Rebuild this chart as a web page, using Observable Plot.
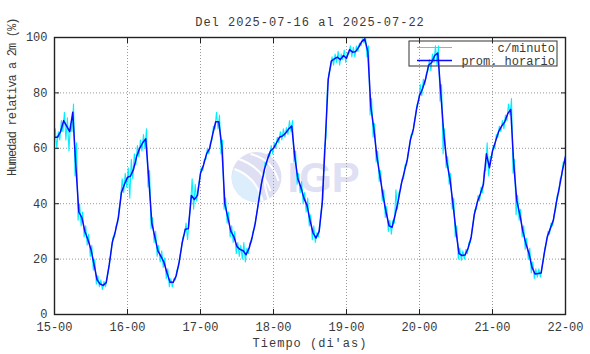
<!DOCTYPE html>
<html><head><meta charset="utf-8">
<script src="https://cdn.jsdelivr.net/npm/d3@7"></script>
<script src="https://cdn.jsdelivr.net/npm/@observablehq/plot@0.6"></script>
<style>body{margin:0;background:#fff} #chart svg{display:block}</style>
</head><body><div id="chart"></div>
<script>
// ---- chart data ----
const title = "Del 2025-07-16 al 2025-07-22";
const yLabel = "Humedad relativa a 2m (%)";
const xLabel = "Tiempo (di'as)";
const seriesNames = ["c/minuto", "prom. horario"];
const seriesColors = ["#00f0ff", "#0a0aff"];
const startTime = "2025-07-15T00:00:00Z";
const dayTicks = ["2025-07-15","2025-07-16","2025-07-17","2025-07-18","2025-07-19","2025-07-20","2025-07-21","2025-07-22"];
const yTicks = [0, 20, 40, 60, 80, 100];
const yGrid = [20, 40, 60, 80];
const watermark = "IGP";

// hourly average (prom. horario), one value per hour from 15-00 to 22-00
const hourly = [
 64,64,66,70,68,66,73,54,37,35,30,27,23.5,18,12.5,11,10.5,11.5,18,26,30,35,44,47,
 49.5,50,52.5,57,60,62,63.4,49,33,28,23,21,18.8,15,11.6,11.6,14,19,26,30.8,31,43,41.5,43,
 51,54,58,60,65,69.6,69.6,61,40,35,30,28,24.5,23.5,23,21.6,24,28,33,40,47,52.3,56,59,
 60,62,64,64.5,65.5,67,68,57,49,46,42,39.5,34,29.5,27.6,30,40,62,85,91.5,92.3,92.9,92,93.5,
 92.5,95.6,94.7,94.9,96.5,98.5,99.5,95,75,67,57,50,43,37,32,31.5,36,41,47,51.5,56,63,67,74,
 79,81.5,85,90,91,93.5,94.4,80,65,55,49,40,30,22,21.3,21.5,24,28,36,40.5,43.5,47,58,53,
 59,62.5,66,68,69.5,72.5,74,54,41,36,30,25.5,22,17,14.6,14.8,15,22,28,31,34,40.5,46,52,
 57
];
// per-minute data (c/minuto): lowest and highest reading seen in each hour
const minuteLow = [
 60,60,63,66,63,59,66,50,34,32,28,25,21,16,11,10,9,10,16,24,28,33,42,44,
 46,42,49,54,57,59,60,46,31,26,21,19,17,13,10,10,12.5,17,24,29,27,40,38,41,
 49,52,56,58,63,67,67,58,38,33,28,26,22,21,20,19,22,26,31,38,45,50,54,57,
 58,60,62,63,64,65,66,55,47,44,40,37,32,27,26,28,38,60,83,89,90,91,90,92,
 91,94,93,93,95,97,98,93,72,64,55,48,41,35,30,29,33,38,45,49,54,61,65,72,
 77,79,83,88,88,91,90,77,58,53,47,38,28,20,19.5,20,22,26,34,38,41,44,52,50,
 57,60,64,66,67,70,72,51,36,34,28,23.5,20,15,13,13.5,13.5,20,26,29,32,38,44,50,
 55
];
const minuteHigh = [
 67,66,70,73,71,69,76,62,40,37,32,29,25,20,14,12.5,12,13,20,28,32,38,49,51,
 53,56,58,61,63,65,67,52,35,30,25,23,20.5,16.5,13,13,16,21,28,33,34,49,47,46,
 53,56,60,62,68,73,72,63,42,37,32,30,26,25,26,24,26,30,35,42,49,55,58,61,
 62,64,66,67,67.5,70,70,59,51,48,44,42,36,32,29.5,32,42,64,87,93,94,95,94,95.5,
 94.5,97,96.5,97,98,99.5,100,97,78,69,59,52,45,39,34,34,45,44,49,54,58,65,69,76,
 83,85,87,92,94,97,97,83,67,57,51,42,32,24,23,23.5,26,30,38,43,46,52,62,57,
 61,65,68,70,72,76,78,56,43,38,32,27.5,24,19,16.5,16.5,17,24,30,33,36,43,49,55,
 60
];

// ---- build tables for the library ----
const HOUR = 3600e3;
const t0 = new Date(startTime).getTime();
const dayDates = dayTicks.map(d => new Date(d + "T00:00:00Z"));
const hourlyData = hourly.map((v, i) => ({t: new Date(t0 + i * HOUR), v}));
const minuteData = [];
minuteLow.forEach((lo, i) => {
  minuteData.push({t: new Date(t0 + (i - 0.25) * HOUR), v: lo});
  minuteData.push({t: new Date(t0 + (i + 0.25) * HOUR), v: minuteHigh[i]});
});

const fmt = d3.utcFormat("%d-%H");
const mono = "'Liberation Mono', 'DejaVu Sans Mono', monospace";
const ink = "#3a3a3a";

const plot = Plot.plot({
  width: 590, height: 354,
  marginLeft: 54, marginRight: 25, marginTop: 37, marginBottom: 40,
  style: {fontFamily: mono, fontSize: "12px", color: ink, background: "#fff"},
  x: {type: "utc", domain: [dayDates[0], dayDates[dayDates.length - 1]]},
  y: {domain: [0, 100]},
  marks: [
    Plot.gridX(dayDates, {stroke: "#9a9a9a", strokeOpacity: 1, strokeDasharray: "1,2"}),
    Plot.gridY(yGrid, {stroke: "#9a9a9a", strokeOpacity: 1, strokeDasharray: "1,2"}),
    Plot.line(minuteData, {x: "t", y: "v", stroke: seriesColors[0], strokeWidth: 1.1, clip: true}),
    Plot.line(hourlyData, {x: "t", y: "v", stroke: seriesColors[1], strokeWidth: 1.5, clip: true}),
    Plot.frame({stroke: "#222", strokeWidth: 1.4}),
    // tick labels
    Plot.axisX(dayDates, {anchor: "bottom", tickSize: 0, tickPadding: 8, tickFormat: fmt, label: null, fill: ink}),
    Plot.axisY(yTicks, {anchor: "left", tickSize: 0, tickPadding: 7, label: null, fill: ink}),
    // inward ticks on all four sides
    Plot.axisX(dayDates, {anchor: "bottom", tickSize: 5, dy: -5, tickFormat: () => "", label: null, stroke: "#222"}),
    Plot.axisX(dayDates, {anchor: "top", tickSize: 5, dy: 5, tickFormat: () => "", label: null, stroke: "#222"}),
    Plot.axisY(yTicks, {anchor: "left", tickSize: 5, dx: 5, tickFormat: () => "", label: null, stroke: "#222"}),
    Plot.axisY(yTicks, {anchor: "right", tickSize: 5, dx: -5, tickFormat: () => "", label: null, stroke: "#222"}),
    // titles
    Plot.text([title], {frameAnchor: "top", dy: -20, fontSize: 12, fill: ink}),
    Plot.text([xLabel], {frameAnchor: "bottom", dy: 32, fontSize: 12, fill: ink}),
    Plot.text([yLabel], {frameAnchor: "left", dx: -42, rotate: -90, fontSize: 12, fill: ink})
  ]
});

const svg = d3.select(plot);
svg.selectAll("text").each(function() {
  const s = d3.select(this).text();
  if (s === title || s === xLabel) d3.select(this).attr("letter-spacing", 1);
  if (s === yLabel) d3.select(this).attr("letter-spacing", -0.9);
});

// watermark logo, placed under the data
const W = 590, H = 354, mL = 54, mR = 25, mT = 37, mB = 40;
const cx = (mL + W - mR) / 2, cy = (mT + H - mB) / 2;
const wm = svg.insert("g", "g").attr("aria-label", "watermark");
const lc = {x: cx - 53, y: cy + 1.5, r: 25};
wm.append("circle").attr("cx", lc.x).attr("cy", lc.y).attr("r", lc.r).attr("fill", "#dfdff4");
wm.append("path")
  .attr("d", `M${lc.x - lc.r},${lc.y} A${lc.r},${lc.r} 0 0 0 ${lc.x + 8},${lc.y + lc.r - 1} Q${lc.x - 4},${lc.y - 4} ${lc.x - lc.r + 2},${lc.y - 8} Z`)
  .attr("fill", "#dcedfb");
[[-22, -8, 6, 24], [-18, -18, 14, 14], [-6, -23, 22, 4]].forEach(([x1, y1, x2, y2]) => {
  wm.append("path")
    .attr("d", `M${lc.x + x1},${lc.y + y1} Q${lc.x + (x1 + x2) / 2 + 8},${lc.y + (y1 + y2) / 2 - 8} ${lc.x + x2},${lc.y + y2}`)
    .attr("fill", "none").attr("stroke", "#fff").attr("stroke-width", 2);
});
wm.append("path").attr("d", `M${lc.x + 12},${lc.y - 22} Q${lc.x + 4},${lc.y} ${lc.x + 12},${lc.y + 22}`)
  .attr("fill", "none").attr("stroke", "#fff").attr("stroke-width", 2);
wm.append("text").attr("x", cx - 22).attr("y", cy + 16.5).attr("text-anchor", "start")
  .attr("font-family", "'Liberation Sans', Arial, sans-serif").attr("font-weight", "bold")
  .attr("font-size", 42).attr("fill", "#e0e0f4").text(watermark);

// legend box
const lg = svg.append("g").attr("aria-label", "legend");
const bx = W - mR - 8 - 148, by = mT + 4;
lg.append("rect").attr("x", bx).attr("y", by).attr("width", 148).attr("height", 25)
  .attr("fill", "none").attr("stroke", "#333").attr("stroke-width", 1);
seriesNames.forEach((name, i) => {
  const yy = by + 6.5 + i * 13;
  lg.append("line").attr("x1", bx + 8).attr("x2", bx + 43).attr("y1", yy).attr("y2", yy)
    .attr("stroke", seriesColors[i]).attr("stroke-width", i ? 1.5 : 1.1);
  lg.append("text").attr("x", bx + 146).attr("y", yy).attr("dy", "0.35em")
    .attr("text-anchor", "end").attr("font-family", mono).attr("font-size", 12)
    .attr("fill", ink).text(name);
});

document.getElementById("chart").append(plot);
</script>
</body></html>
